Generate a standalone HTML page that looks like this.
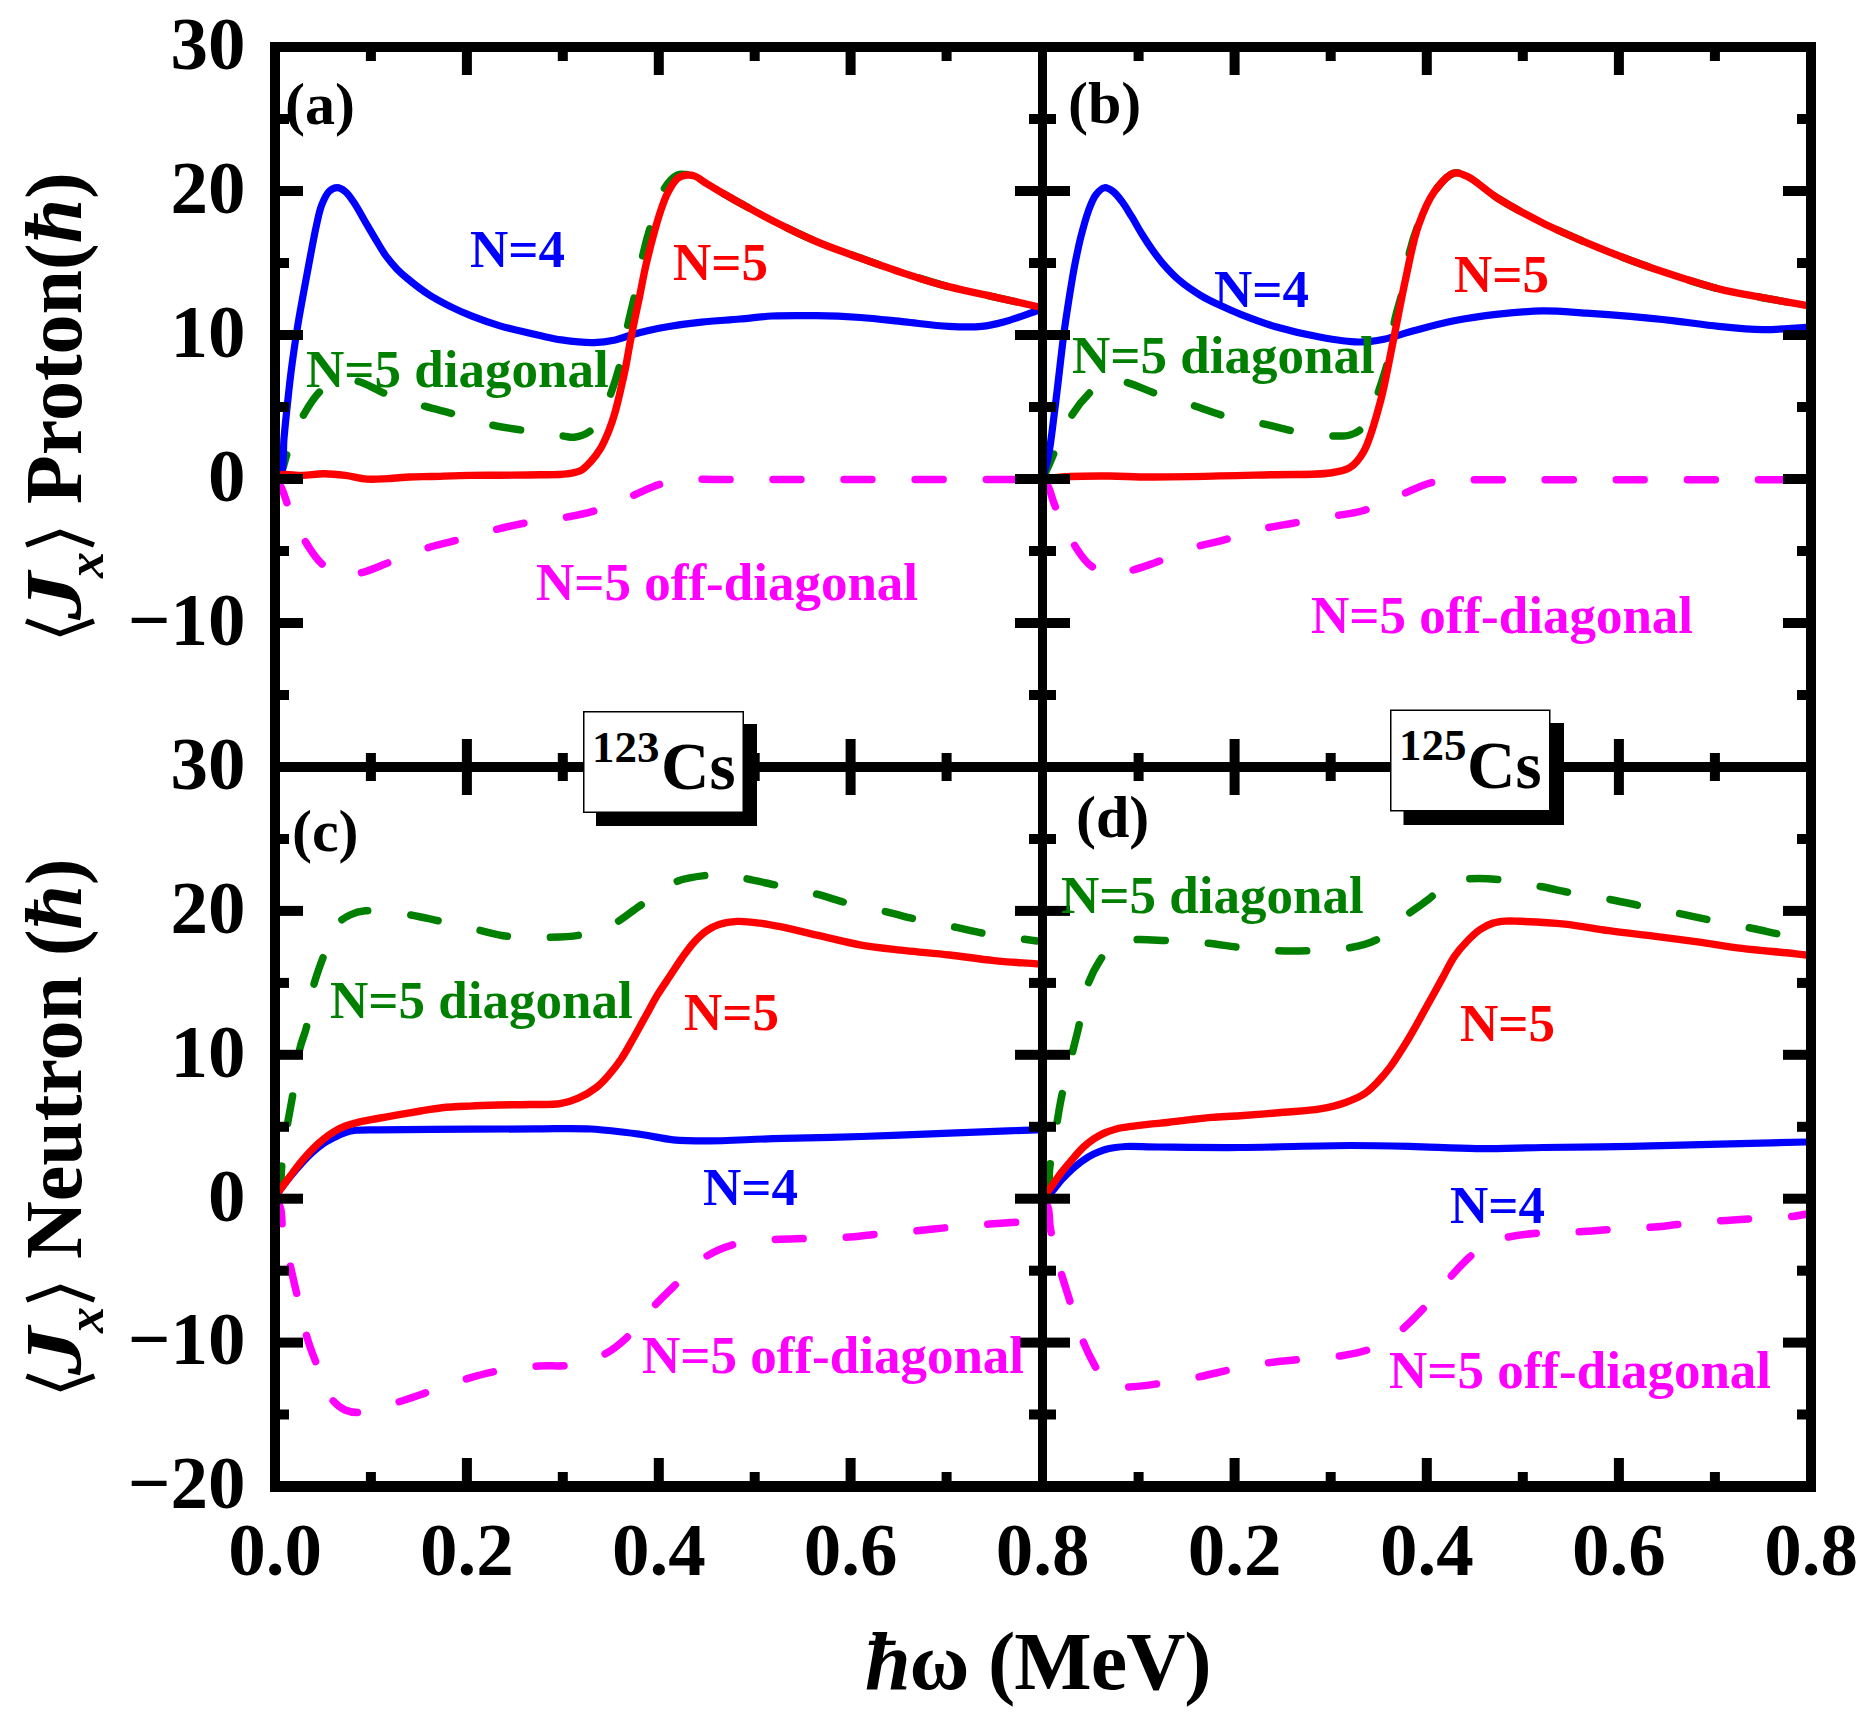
<!DOCTYPE html>
<html><head><meta charset="utf-8"><style>
html,body{margin:0;padding:0;background:#fff;}
svg{display:block;}
</style></head><body>
<svg width="1860" height="1717" viewBox="0 0 1860 1717">
<rect width="1860" height="1717" fill="#fff"/>
<path d="M275.0,479.0 C276.9,476.9 279.0,475.7 280.8,472.7 C283.8,467.7 285.1,458.5 288.3,450.1 C292.5,439.3 298.4,424.0 304.4,413.5 C309.4,404.8 314.4,396.8 320.5,391.0 C325.8,386.0 331.7,381.6 338.0,380.0 C344.3,378.4 351.1,379.5 358.2,381.3 C367.1,383.5 376.5,390.3 386.7,394.2 C398.1,398.6 411.8,402.5 423.8,406.0 C434.9,409.2 445.0,411.5 456.0,414.6 C467.7,417.8 479.9,422.3 492.0,425.0 C503.9,427.7 516.0,429.1 528.0,431.0 C539.9,432.8 555.3,435.1 563.7,436.1 C568.3,436.7 570.5,437.7 574.4,437.2 C579.3,436.5 586.2,434.1 590.5,430.8 C594.6,427.6 597.0,423.2 600.0,418.0 C603.9,411.2 607.7,402.0 611.0,393.1 C614.6,383.4 617.8,373.0 620.6,362.0 C623.6,350.0 625.4,336.2 628.0,324.0 C630.4,312.6 633.2,302.5 635.7,291.2 C638.3,279.1 640.4,265.4 643.2,253.5 C645.8,242.6 648.4,233.0 651.8,222.4 C655.5,211.1 659.4,196.3 664.7,188.0 C668.5,182.1 673.4,176.9 677.6,175.0 C680.5,173.7 683.3,174.3 686.2,174.5 C689.1,174.7 691.8,174.9 694.8,176.1 C698.6,177.6 702.4,181.1 706.7,183.7 C711.6,186.7 717.3,190.1 722.8,193.3 C728.4,196.6 733.4,199.3 740.0,203.0 C749.0,208.0 760.5,214.6 772.2,220.5 C785.7,227.4 801.5,235.2 816.3,241.5 C830.9,247.7 845.7,252.7 860.4,258.0 C875.1,263.3 889.7,268.6 904.5,273.4 C919.1,278.2 933.8,282.8 948.6,286.7 C963.2,290.5 978.0,293.3 992.7,296.6 C1007.4,299.9 1022.2,303.2 1037.0,306.5" fill="none" stroke="#007f00" stroke-width="7.5" stroke-linejoin="round" stroke-linecap="round" stroke-dasharray="28 43" stroke-dashoffset="0.5"/><path d="M275.0,479.0 C277.0,481.7 279.1,483.5 281.0,487.0 C283.9,492.2 285.7,500.3 289.0,508.0 C293.3,517.8 299.1,531.2 305.0,541.0 C310.2,549.6 315.6,558.2 322.0,564.0 C327.5,569.0 333.6,573.5 340.0,575.0 C346.3,576.4 352.8,574.6 360.0,573.0 C368.9,571.0 378.8,566.3 389.0,562.5 C400.4,558.3 413.5,552.5 425.0,548.7 C435.4,545.3 444.4,543.5 455.0,540.6 C466.9,537.4 480.9,533.2 493.0,530.2 C503.8,527.5 512.9,525.2 524.0,523.2 C536.7,520.9 552.3,519.7 565.0,517.4 C576.1,515.4 585.4,513.8 596.0,510.5 C607.9,506.8 621.5,500.2 633.0,495.5 C643.0,491.4 651.4,486.7 661.0,484.0 C670.4,481.4 680.2,480.3 690.0,479.5 C699.9,478.7 704.7,479.5 720.0,479.5 C769.7,479.5 931.3,479.5 1037.0,479.5" fill="none" stroke="#ff00ff" stroke-width="7.5" stroke-linejoin="round" stroke-linecap="round" stroke-dasharray="28 43" stroke-dashoffset="1"/><path d="M275.0,479.0 C276.9,478.0 279.3,478.2 280.8,475.9 C284.4,470.5 282.9,450.4 284.0,438.3 C285.0,427.1 286.0,417.2 287.2,406.0 C288.5,393.9 289.8,381.4 291.5,368.4 C293.4,354.2 295.6,338.5 298.0,324.0 C300.3,310.0 303.1,295.4 305.4,282.9 C307.3,272.4 309.0,263.4 310.8,253.9 C312.6,244.8 314.2,235.4 316.1,227.0 C317.8,219.4 319.1,211.8 321.5,205.5 C323.6,200.2 325.9,194.5 329.0,191.5 C331.3,189.3 334.4,187.7 337.1,187.7 C339.8,187.7 342.7,189.5 345.2,191.5 C348.3,194.0 350.9,198.1 353.8,202.3 C357.4,207.5 360.9,214.4 364.5,220.5 C368.1,226.6 371.7,232.8 375.3,238.8 C378.8,244.6 382.2,250.8 386.0,256.0 C389.4,260.7 393.1,265.0 396.8,268.9 C400.3,272.5 403.2,275.1 407.5,278.6 C413.3,283.4 421.7,290.0 429.0,294.7 C436.0,299.2 443.3,303.0 450.5,306.6 C457.6,310.1 464.3,313.1 472.0,316.2 C480.6,319.6 489.8,322.9 500.0,325.9 C512.1,329.4 528.7,333.1 540.0,335.6 C548.2,337.4 553.6,338.8 561.5,339.9 C571.1,341.3 584.1,342.8 593.8,342.6 C601.7,342.4 608.7,341.3 615.3,339.9 C621.1,338.7 626.0,336.5 631.4,335.0 C636.8,333.5 641.7,332.1 647.5,330.8 C654.1,329.3 661.1,327.8 669.0,326.5 C678.7,324.9 690.0,323.4 701.3,322.2 C713.6,320.9 727.7,320.1 740.0,319.0 C751.2,318.0 760.6,316.6 772.2,316.0 C785.7,315.3 801.6,315.5 816.3,315.7 C831.0,315.9 845.7,316.5 860.4,317.5 C875.1,318.5 889.8,320.4 904.5,321.9 C919.2,323.4 934.9,325.6 948.6,326.3 C960.4,326.9 971.7,327.3 981.6,326.3 C989.7,325.5 995.7,324.0 1003.7,321.9 C1013.7,319.3 1025.9,314.6 1037.0,310.9" fill="none" stroke="#0000ff" stroke-width="7.2" stroke-linejoin="round" stroke-linecap="round"/><path d="M275.0,479.0 C276.9,477.6 278.1,475.6 280.8,474.8 C285.5,473.3 295.1,475.6 302.3,475.4 C309.5,475.2 316.6,473.8 323.8,473.8 C331.0,473.8 338.2,474.5 345.3,475.4 C352.5,476.3 359.6,478.6 366.8,479.1 C373.9,479.6 381.1,478.9 388.3,478.6 C395.5,478.3 402.6,477.3 409.8,477.0 C417.0,476.7 423.1,476.7 431.3,476.5 C442.3,476.2 457.8,475.6 470.0,475.4 C481.0,475.2 490.2,475.3 501.2,475.2 C513.4,475.1 528.2,475.1 540.0,474.8 C549.8,474.6 559.4,474.8 566.9,473.8 C572.4,473.1 576.9,472.6 580.9,470.5 C584.7,468.5 587.4,465.2 590.5,461.9 C593.9,458.2 597.3,453.8 600.2,449.0 C603.5,443.6 606.3,437.0 608.8,430.8 C611.3,424.5 613.4,418.1 615.3,411.4 C617.3,404.5 618.9,397.3 620.6,389.9 C622.4,382.0 624.4,373.4 626.0,365.2 C627.6,357.2 628.8,349.2 630.3,341.5 C631.7,334.2 633.1,327.1 634.6,320.0 C636.0,313.2 637.3,307.3 638.9,299.8 C640.9,290.3 643.0,278.1 645.4,267.5 C647.7,257.3 650.3,247.0 652.9,237.4 C655.3,228.4 657.7,219.5 660.4,211.6 C662.8,204.6 664.9,198.1 668.0,192.3 C670.8,187.1 674.0,181.1 677.6,178.3 C680.2,176.2 683.3,175.5 686.2,175.1 C689.0,174.8 691.8,175.0 694.8,176.1 C698.6,177.5 702.4,181.1 706.7,183.7 C711.6,186.7 717.3,190.1 722.8,193.3 C728.4,196.6 733.4,199.3 740.0,203.0 C749.0,208.0 760.5,214.6 772.2,220.5 C785.7,227.4 801.5,235.2 816.3,241.5 C830.9,247.7 845.7,252.7 860.4,258.0 C875.1,263.3 889.7,268.6 904.5,273.4 C919.1,278.2 933.8,282.8 948.6,286.7 C963.2,290.5 978.0,293.3 992.7,296.6 C1007.4,299.9 1022.2,303.2 1037.0,306.5" fill="none" stroke="#ff0000" stroke-width="7.4" stroke-linejoin="round" stroke-linecap="round"/><path d="M1042.5,479.0 C1044.7,474.3 1046.9,469.7 1049.0,465.0 C1051.1,460.3 1052.7,456.0 1055.0,451.0 C1057.6,445.1 1061.1,438.2 1064.0,432.0 C1066.8,426.0 1068.6,420.4 1072.3,414.5 C1076.7,407.4 1083.4,399.0 1089.5,393.0 C1094.9,387.7 1100.4,381.7 1106.7,380.0 C1112.7,378.4 1118.9,380.6 1126.0,382.3 C1135.3,384.6 1146.3,390.2 1157.2,394.0 C1169.1,398.1 1182.8,402.1 1194.8,406.0 C1206.0,409.6 1215.7,413.7 1227.0,416.7 C1239.0,419.9 1252.6,421.6 1264.7,424.2 C1275.9,426.6 1285.8,429.8 1297.0,431.7 C1309.0,433.8 1324.8,435.8 1334.6,436.0 C1340.9,436.2 1345.5,436.3 1350.0,435.0 C1353.9,433.9 1357.3,432.4 1360.4,429.6 C1364.2,426.2 1367.2,420.7 1370.0,415.0 C1373.4,408.1 1375.8,399.6 1378.7,390.9 C1382.0,381.0 1385.8,369.9 1388.4,358.6 C1391.2,346.4 1392.2,332.2 1394.8,319.9 C1397.2,308.6 1400.9,298.8 1403.4,287.6 C1406.0,275.8 1406.9,262.7 1409.9,251.0 C1412.7,239.8 1416.4,228.9 1420.6,218.8 C1424.6,209.3 1428.4,199.6 1434.2,191.9 C1439.7,184.5 1447.6,174.8 1454.0,173.1 C1458.5,171.9 1462.2,174.1 1467.3,176.4 C1475.8,180.3 1486.8,191.3 1498.2,198.5 C1511.4,206.8 1527.4,215.3 1542.2,222.7 C1556.7,230.0 1571.5,236.3 1586.3,242.6 C1600.9,248.8 1615.6,254.7 1630.4,260.2 C1645.0,265.7 1659.7,270.8 1674.5,275.6 C1689.1,280.4 1703.8,285.2 1718.6,288.9 C1733.2,292.6 1748.1,294.9 1762.7,297.7 C1777.2,300.4 1791.6,302.8 1806.0,305.4" fill="none" stroke="#007f00" stroke-width="7.5" stroke-linejoin="round" stroke-linecap="round" stroke-dasharray="28 43" stroke-dashoffset="0.5"/><path d="M1042.5,479.0 C1044.3,481.4 1046.3,483.0 1048.0,486.2 C1050.6,491.0 1051.9,498.5 1055.0,505.9 C1059.3,516.2 1066.2,531.4 1072.4,541.7 C1077.5,550.2 1082.5,558.3 1088.5,563.7 C1093.5,568.2 1099.0,571.6 1105.0,573.0 C1111.3,574.5 1118.1,573.1 1125.5,571.8 C1134.7,570.1 1145.0,566.2 1155.6,562.5 C1167.6,558.3 1181.9,551.3 1193.7,547.5 C1203.6,544.3 1211.4,543.3 1221.5,540.6 C1233.8,537.3 1249.3,532.0 1262.0,529.0 C1273.0,526.4 1282.1,525.2 1293.1,523.2 C1305.4,521.0 1320.0,518.5 1332.4,516.3 C1343.4,514.3 1353.1,513.7 1363.7,510.5 C1375.4,507.0 1388.0,500.3 1399.5,495.5 C1410.2,491.1 1420.8,485.4 1430.7,482.8 C1439.2,480.6 1446.8,480.2 1455.0,479.7 C1463.3,479.2 1466.9,479.7 1480.0,479.7 C1527.1,479.7 1697.3,479.7 1806.0,479.7" fill="none" stroke="#ff00ff" stroke-width="7.5" stroke-linejoin="round" stroke-linecap="round" stroke-dasharray="28 43" stroke-dashoffset="68"/><path d="M1042.5,479.0 C1044.5,471.0 1046.8,464.4 1048.6,455.0 C1051.1,442.0 1052.7,425.6 1055.0,408.0 C1057.9,385.6 1061.5,351.4 1064.2,331.3 C1066.0,318.2 1067.3,309.8 1069.0,299.0 C1070.7,288.3 1072.4,277.3 1074.4,266.8 C1076.4,256.6 1078.5,246.3 1080.9,236.7 C1083.2,227.7 1085.6,218.4 1088.4,210.9 C1090.7,204.8 1092.8,198.7 1095.9,194.7 C1098.4,191.5 1101.5,188.1 1104.5,187.7 C1107.3,187.3 1110.4,189.5 1113.1,191.5 C1116.2,193.8 1118.9,197.5 1121.7,201.2 C1125.0,205.5 1128.1,210.9 1131.4,216.2 C1135.0,222.0 1138.5,228.6 1142.2,234.5 C1145.7,240.1 1149.2,245.5 1152.9,250.6 C1156.4,255.5 1159.6,259.9 1163.7,264.6 C1168.4,269.9 1173.8,275.8 1179.8,280.8 C1186.2,286.2 1194.0,291.4 1201.3,295.8 C1208.3,300.0 1216.0,303.4 1222.8,306.6 C1228.8,309.4 1233.1,311.4 1240.0,314.1 C1249.9,318.0 1263.8,323.3 1276.6,327.0 C1290.3,331.0 1305.6,334.5 1319.6,337.0 C1332.8,339.4 1346.7,341.9 1358.3,342.0 C1367.7,342.1 1375.5,340.9 1384.0,339.2 C1392.7,337.5 1400.2,334.4 1410.0,331.8 C1422.7,328.4 1439.2,323.7 1454.0,320.8 C1468.6,317.9 1483.5,315.9 1498.2,314.2 C1512.9,312.6 1527.5,311.1 1542.2,310.9 C1556.9,310.7 1571.6,312.2 1586.3,313.1 C1601.0,314.0 1615.7,315.1 1630.4,316.4 C1645.1,317.7 1659.8,319.2 1674.5,320.8 C1689.2,322.5 1703.9,324.8 1718.6,326.3 C1733.3,327.8 1748.1,329.4 1762.7,329.6 C1777.2,329.8 1791.6,328.1 1806.0,327.4" fill="none" stroke="#0000ff" stroke-width="7.2" stroke-linejoin="round" stroke-linecap="round"/><path d="M1042.5,479.0 C1051.7,478.2 1060.0,477.0 1070.0,476.5 C1082.1,475.9 1096.6,475.9 1110.0,476.0 C1123.6,476.1 1133.7,477.0 1151.0,477.0 C1180.5,477.1 1238.2,475.5 1271.2,474.7 C1294.3,474.1 1315.7,475.1 1330.0,473.0 C1338.4,471.8 1344.2,471.2 1349.8,467.7 C1355.5,464.1 1359.5,458.9 1363.7,451.6 C1370.1,440.3 1375.1,420.8 1379.8,403.8 C1385.0,385.0 1388.5,364.0 1392.7,343.5 C1397.1,322.4 1401.1,299.5 1405.6,279.0 C1409.7,260.2 1413.0,240.8 1418.5,225.3 C1423.0,212.6 1427.7,201.0 1434.2,191.9 C1439.8,184.1 1447.6,174.8 1454.0,173.1 C1458.5,171.9 1462.2,174.1 1467.3,176.4 C1475.8,180.3 1486.8,191.3 1498.2,198.5 C1511.4,206.8 1527.4,215.3 1542.2,222.7 C1556.7,230.0 1571.5,236.3 1586.3,242.6 C1600.9,248.8 1615.6,254.7 1630.4,260.2 C1645.0,265.7 1659.7,270.8 1674.5,275.6 C1689.1,280.4 1703.8,285.2 1718.6,288.9 C1733.2,292.6 1748.1,294.9 1762.7,297.7 C1777.2,300.4 1791.6,302.8 1806.0,305.4" fill="none" stroke="#ff0000" stroke-width="7.4" stroke-linejoin="round" stroke-linecap="round"/><path d="M275.0,1198.0 C276.7,1193.7 279.1,1189.8 280.2,1185.0 C281.5,1179.3 281.0,1173.3 281.8,1165.8 C283.0,1154.9 285.3,1138.3 287.2,1126.0 C288.9,1115.2 290.7,1107.1 292.6,1095.9 C295.0,1081.8 297.1,1060.6 300.0,1048.0 C302.0,1039.5 304.6,1035.2 306.5,1027.0 C309.1,1015.9 310.2,999.4 313.2,987.2 C315.9,976.4 319.4,967.4 323.1,957.3 C327.0,946.7 330.8,932.5 336.4,925.2 C340.3,920.1 345.1,917.4 350.0,915.0 C354.7,912.7 358.8,911.4 365.2,910.8 C375.5,909.8 393.3,912.4 406.1,914.2 C417.5,915.8 427.0,918.4 438.2,920.8 C450.5,923.5 464.8,927.0 477.0,929.7 C487.9,932.1 497.0,935.0 508.0,936.3 C520.1,937.8 534.2,937.7 546.7,937.4 C558.4,937.1 569.8,937.1 580.8,934.9 C591.7,932.7 602.8,929.3 612.6,924.5 C622.3,919.7 629.9,912.6 639.5,906.1 C650.6,898.6 663.4,887.1 675.4,882.0 C685.7,877.6 697.2,876.5 706.4,875.4 C713.6,874.6 719.4,874.5 726.0,875.0 C732.7,875.5 738.8,877.2 746.2,878.7 C755.4,880.5 766.2,883.0 777.2,885.4 C789.6,888.1 804.7,891.0 817.0,894.2 C827.7,897.0 836.2,900.2 846.9,903.0 C859.2,906.2 874.3,909.0 886.7,911.9 C897.7,914.5 906.8,917.1 917.7,919.6 C929.9,922.3 944.2,924.9 956.4,927.4 C967.3,929.7 975.7,932.0 987.3,934.0 C1001.9,936.6 1020.4,938.7 1037.0,941.0" fill="none" stroke="#007f00" stroke-width="7.5" stroke-linejoin="round" stroke-linecap="round" stroke-dasharray="28 43" stroke-dashoffset="66"/><path d="M275.0,1198.0 C276.8,1201.2 279.1,1203.7 280.4,1207.7 C282.2,1213.4 281.4,1221.4 282.7,1229.7 C284.4,1240.7 288.2,1255.9 290.8,1267.8 C293.1,1278.4 295.2,1287.2 297.7,1297.9 C300.5,1310.1 303.4,1325.2 307.0,1337.2 C310.1,1347.7 313.5,1356.3 317.4,1366.1 C321.6,1376.7 325.6,1390.9 331.3,1398.5 C335.3,1403.9 339.9,1407.7 345.0,1410.0 C349.9,1412.2 354.8,1412.7 361.3,1412.3 C371.2,1411.6 386.5,1405.6 398.3,1402.0 C409.2,1398.7 418.7,1395.2 429.5,1391.5 C441.3,1387.5 454.5,1382.4 466.5,1378.8 C477.6,1375.5 487.5,1372.8 498.9,1370.7 C511.3,1368.4 525.7,1367.0 538.2,1366.1 C549.5,1365.2 559.8,1366.8 570.5,1365.0 C581.7,1363.1 594.2,1359.5 604.0,1354.5 C612.9,1350.0 619.7,1344.2 627.2,1337.2 C635.9,1329.1 644.2,1316.8 652.3,1308.0 C659.4,1300.3 665.4,1294.5 673.2,1287.0 C682.6,1277.9 693.8,1264.5 705.0,1257.2 C714.8,1250.8 724.7,1246.9 735.9,1243.9 C748.1,1240.7 763.1,1240.4 775.6,1239.5 C786.8,1238.7 796.4,1238.8 807.5,1238.4 C819.8,1238.0 833.9,1238.1 846.1,1237.3 C857.3,1236.6 866.9,1235.0 878.1,1234.0 C890.6,1232.8 905.2,1231.9 917.7,1230.7 C928.9,1229.7 938.5,1228.4 949.7,1227.4 C962.2,1226.2 977.0,1225.1 989.4,1224.1 C1000.3,1223.3 1011.5,1222.6 1020.2,1221.9 C1026.6,1221.4 1031.4,1221.0 1037.0,1220.5" fill="none" stroke="#ff00ff" stroke-width="7.5" stroke-linejoin="round" stroke-linecap="round" stroke-dasharray="28 43" stroke-dashoffset="0.5"/><path d="M275.0,1198.0 C276.6,1195.5 277.4,1193.7 279.7,1190.5 C284.3,1184.0 296.0,1169.6 302.3,1162.6 C306.4,1158.0 309.3,1155.1 313.0,1151.8 C316.5,1148.7 320.1,1145.7 323.8,1143.2 C327.3,1140.9 330.9,1139.1 334.5,1137.3 C338.1,1135.5 341.6,1133.7 345.3,1132.5 C348.8,1131.4 351.8,1130.8 356.0,1130.3 C361.9,1129.6 367.8,1129.9 377.5,1129.8 C397.6,1129.5 441.8,1129.4 470.0,1129.2 C493.7,1129.1 514.7,1128.9 535.6,1128.9 C554.8,1128.9 573.1,1128.0 591.0,1129.0 C607.9,1129.9 625.3,1132.3 640.0,1134.3 C652.2,1136.0 662.1,1138.7 673.2,1139.8 C684.2,1140.9 693.4,1140.9 706.4,1140.9 C724.7,1140.9 749.0,1139.4 772.7,1138.7 C800.1,1137.9 831.7,1137.4 861.2,1136.5 C890.7,1135.6 920.3,1134.2 949.7,1133.1 C978.9,1132.0 1007.9,1130.9 1037.0,1129.8" fill="none" stroke="#0000ff" stroke-width="7.2" stroke-linejoin="round" stroke-linecap="round"/><path d="M275.0,1198.0 C276.6,1195.5 277.7,1193.4 279.7,1190.5 C282.7,1186.1 287.6,1179.6 291.5,1174.4 C295.1,1169.5 298.6,1164.8 302.3,1160.4 C305.8,1156.2 309.3,1152.3 313.0,1148.6 C316.5,1145.1 320.1,1141.8 323.8,1138.9 C327.3,1136.1 330.8,1133.6 334.5,1131.4 C338.0,1129.3 341.6,1127.4 345.3,1126.0 C348.8,1124.6 351.8,1123.8 356.0,1122.8 C361.9,1121.3 370.3,1119.9 377.5,1118.5 C384.7,1117.2 391.8,1116.0 399.0,1114.7 C406.2,1113.5 413.3,1112.2 420.5,1111.0 C427.7,1109.8 434.3,1108.5 442.0,1107.7 C450.7,1106.8 460.5,1106.5 470.0,1106.1 C479.8,1105.6 490.0,1105.3 500.0,1105.0 C510.0,1104.7 520.0,1104.7 530.0,1104.5 C540.0,1104.3 551.3,1105.1 560.0,1103.7 C566.9,1102.6 572.4,1100.8 578.3,1098.2 C584.6,1095.4 591.4,1091.3 596.7,1087.2 C601.5,1083.5 605.0,1079.4 608.9,1074.9 C613.1,1070.1 617.3,1064.8 621.2,1059.0 C625.5,1052.7 629.4,1045.3 633.4,1038.2 C637.5,1031.0 641.5,1023.5 645.6,1016.2 C649.7,1008.9 653.7,1001.1 657.9,994.2 C661.9,987.7 666.0,981.9 670.1,975.8 C674.2,969.7 678.1,963.3 682.3,957.5 C686.3,951.9 690.3,946.2 694.6,941.6 C698.5,937.4 702.5,933.5 706.8,930.6 C710.7,927.9 714.4,926.0 719.0,924.5 C724.4,922.7 730.9,921.7 737.4,921.4 C744.5,921.1 752.4,922.2 760.0,923.2 C767.9,924.2 775.2,925.7 783.8,927.4 C794.0,929.5 805.1,932.4 817.0,935.1 C830.7,938.2 846.4,942.5 861.2,945.1 C875.9,947.7 890.7,948.9 905.5,950.6 C920.2,952.2 935.0,953.3 949.7,955.0 C964.5,956.7 979.3,959.1 994.0,960.6 C1008.4,962.1 1022.7,962.8 1037.0,963.9" fill="none" stroke="#ff0000" stroke-width="7.4" stroke-linejoin="round" stroke-linecap="round"/><path d="M1042.5,1198.0 C1044.5,1193.7 1047.4,1189.7 1048.6,1185.0 C1049.9,1179.8 1048.9,1174.8 1049.7,1168.0 C1050.9,1157.5 1054.0,1140.7 1056.1,1128.2 C1057.9,1117.2 1059.2,1108.0 1061.5,1097.0 C1064.1,1084.5 1068.6,1067.7 1071.2,1057.2 C1072.9,1050.3 1074.2,1045.3 1075.5,1040.0 C1076.6,1035.4 1077.5,1032.5 1078.7,1027.0 C1080.8,1017.5 1082.6,999.9 1086.5,988.3 C1089.9,978.1 1094.6,968.5 1099.8,960.6 C1104.3,953.7 1108.8,946.5 1115.0,943.0 C1120.8,939.7 1127.7,940.1 1135.2,939.6 C1144.6,939.0 1156.1,940.2 1167.3,940.7 C1179.6,941.3 1193.6,941.8 1206.0,943.0 C1217.5,944.1 1227.8,946.1 1239.2,947.4 C1251.4,948.7 1264.8,950.2 1276.9,950.7 C1288.0,951.2 1297.8,951.1 1309.0,950.7 C1321.4,950.3 1336.2,950.2 1348.2,948.0 C1358.8,946.1 1368.6,944.0 1377.7,939.1 C1387.4,933.9 1395.9,923.5 1404.6,916.7 C1412.5,910.6 1420.1,905.8 1427.6,900.0 C1435.2,894.2 1442.3,885.4 1450.0,882.0 C1456.4,879.1 1462.3,879.2 1469.7,878.7 C1479.1,878.1 1490.6,878.6 1501.8,879.8 C1514.1,881.1 1528.2,884.2 1540.5,886.5 C1551.7,888.6 1561.4,891.0 1572.6,893.1 C1584.9,895.4 1599.0,897.4 1611.3,899.7 C1622.5,901.8 1632.2,904.1 1643.4,906.4 C1655.7,908.9 1669.9,911.6 1682.1,914.1 C1693.0,916.4 1702.1,918.5 1713.1,920.8 C1725.5,923.3 1740.5,926.0 1752.9,928.5 C1763.9,930.7 1774.4,933.4 1783.9,935.1 C1791.9,936.6 1798.6,937.4 1806.0,938.5" fill="none" stroke="#007f00" stroke-width="7.5" stroke-linejoin="round" stroke-linecap="round" stroke-dasharray="28 43" stroke-dashoffset="63"/><path d="M1042.5,1198.0 C1044.4,1201.2 1046.8,1203.7 1048.1,1207.7 C1049.9,1213.2 1049.0,1220.5 1050.4,1228.5 C1052.3,1239.6 1056.4,1255.6 1059.7,1267.8 C1062.6,1278.6 1065.6,1287.4 1068.9,1297.9 C1072.5,1309.6 1076.2,1323.6 1080.5,1334.9 C1084.4,1344.9 1088.4,1354.0 1093.2,1362.6 C1097.7,1370.6 1101.5,1381.1 1108.0,1385.0 C1113.8,1388.4 1121.3,1387.0 1129.0,1386.9 C1138.4,1386.8 1149.1,1385.0 1160.2,1383.4 C1172.8,1381.6 1188.2,1379.0 1200.7,1376.5 C1211.5,1374.3 1220.0,1371.8 1230.7,1369.6 C1242.9,1367.1 1257.5,1364.4 1270.0,1362.6 C1281.3,1361.0 1291.1,1360.3 1302.4,1359.2 C1314.9,1358.0 1329.7,1357.7 1341.7,1355.7 C1352.1,1354.0 1361.3,1352.6 1370.6,1348.8 C1380.6,1344.7 1390.9,1338.0 1399.5,1331.4 C1407.7,1325.2 1414.0,1318.4 1421.4,1310.6 C1429.9,1301.6 1439.1,1289.6 1447.5,1280.3 C1455.0,1272.0 1462.0,1263.7 1469.5,1257.1 C1476.2,1251.2 1483.2,1245.3 1490.0,1242.0 C1495.7,1239.2 1500.3,1238.7 1507.0,1237.3 C1516.1,1235.4 1528.5,1233.8 1540.0,1232.9 C1552.3,1231.9 1566.3,1232.4 1578.6,1231.8 C1589.8,1231.3 1599.4,1230.3 1610.6,1229.6 C1622.9,1228.8 1636.8,1228.4 1649.2,1227.4 C1660.6,1226.5 1670.8,1225.2 1682.2,1224.1 C1694.6,1223.0 1708.4,1221.7 1720.8,1220.8 C1732.3,1219.9 1742.4,1219.3 1753.9,1218.6 C1766.2,1217.8 1782.9,1217.4 1792.4,1216.4 C1798.1,1215.8 1801.5,1214.9 1806.0,1214.2" fill="none" stroke="#ff00ff" stroke-width="7.5" stroke-linejoin="round" stroke-linecap="round" stroke-dasharray="28 43" stroke-dashoffset="62.5"/><path d="M1042.5,1198.0 C1045.3,1196.2 1048.0,1195.1 1050.8,1192.7 C1054.4,1189.5 1057.8,1183.8 1061.5,1179.8 C1065.0,1176.0 1068.6,1172.3 1072.3,1169.0 C1075.8,1165.9 1079.3,1162.9 1083.0,1160.4 C1086.5,1158.0 1090.1,1155.8 1093.8,1154.0 C1097.3,1152.3 1100.9,1150.8 1104.5,1149.7 C1108.0,1148.6 1111.7,1148.0 1115.3,1147.5 C1118.9,1147.0 1121.5,1146.7 1126.0,1146.5 C1133.9,1146.2 1145.1,1146.9 1158.3,1147.0 C1179.3,1147.2 1210.7,1147.7 1240.0,1147.5 C1273.9,1147.3 1318.8,1145.5 1350.0,1145.5 C1373.0,1145.5 1389.5,1145.9 1410.0,1146.4 C1431.6,1146.9 1454.3,1148.4 1476.4,1148.6 C1498.5,1148.8 1519.0,1147.8 1542.7,1147.5 C1570.1,1147.1 1601.7,1146.9 1631.2,1146.4 C1660.7,1145.8 1690.4,1144.9 1719.7,1144.2 C1748.6,1143.5 1777.2,1142.7 1806.0,1142.0" fill="none" stroke="#0000ff" stroke-width="7.2" stroke-linejoin="round" stroke-linecap="round"/><path d="M1042.5,1198.0 C1044.5,1195.5 1046.3,1193.6 1048.6,1190.5 C1052.2,1185.8 1057.3,1177.8 1061.5,1172.3 C1065.2,1167.5 1068.7,1163.6 1072.3,1159.4 C1075.8,1155.3 1079.3,1151.0 1083.0,1147.5 C1086.5,1144.2 1090.1,1141.4 1093.8,1138.9 C1097.3,1136.6 1100.9,1134.6 1104.5,1133.0 C1108.0,1131.4 1111.7,1130.2 1115.3,1129.2 C1118.8,1128.2 1121.8,1127.8 1126.0,1127.1 C1131.9,1126.1 1140.3,1125.2 1147.5,1124.4 C1154.7,1123.6 1161.8,1123.1 1169.0,1122.3 C1176.2,1121.5 1183.3,1120.4 1190.5,1119.6 C1197.7,1118.8 1204.4,1118.0 1212.0,1117.4 C1220.7,1116.7 1229.6,1116.5 1240.0,1115.8 C1252.9,1114.9 1269.6,1113.5 1283.5,1112.3 C1296.2,1111.2 1309.0,1110.7 1320.0,1108.8 C1329.4,1107.2 1337.8,1105.2 1345.6,1102.4 C1352.6,1099.9 1359.3,1097.2 1364.8,1093.5 C1369.8,1090.2 1373.6,1086.2 1377.7,1081.9 C1382.1,1077.3 1386.4,1072.1 1390.5,1066.6 C1394.9,1060.7 1399.1,1054.0 1403.3,1047.3 C1407.7,1040.3 1411.9,1033.0 1416.1,1025.6 C1420.4,1018.0 1424.6,1010.2 1428.9,1002.5 C1433.2,994.8 1437.4,987.1 1441.7,979.4 C1446.0,971.7 1449.9,963.1 1454.5,956.4 C1458.5,950.5 1462.8,945.6 1467.3,941.0 C1471.4,936.7 1475.7,932.6 1480.2,929.5 C1484.3,926.7 1488.6,924.5 1493.0,923.1 C1497.2,921.8 1501.4,921.4 1505.8,921.1 C1510.4,920.8 1513.9,921.1 1520.0,921.3 C1530.8,921.7 1550.0,922.5 1564.9,924.1 C1579.7,925.7 1594.3,928.7 1609.1,930.7 C1623.8,932.7 1638.6,934.3 1653.4,936.2 C1668.1,938.0 1682.9,939.8 1697.6,941.8 C1712.4,943.8 1727.1,946.6 1741.9,948.4 C1756.6,950.2 1774.3,951.6 1786.1,952.8 C1794.0,953.6 1799.4,954.3 1806.0,955.0" fill="none" stroke="#ff0000" stroke-width="7.4" stroke-linejoin="round" stroke-linecap="round"/>
<rect x="270.0" y="42.0" width="1546.0" height="10.0" fill="#000"/>
<rect x="270.0" y="1481.0" width="1546.0" height="11.0" fill="#000"/>
<rect x="270.0" y="42.0" width="10.0" height="1450.0" fill="#000"/>
<rect x="1806.0" y="42.0" width="10.0" height="1450.0" fill="#000"/>
<rect x="1038.0" y="42.0" width="9.0" height="1450.0" fill="#000"/>
<rect x="270.0" y="762.0" width="1546.0" height="10.0" fill="#000"/>
<rect x="365.9" y="52.0" width="10.0" height="9.0" fill="#000"/>
<rect x="365.9" y="753.0" width="10.0" height="28.0" fill="#000"/>
<rect x="365.9" y="1472.0" width="10.0" height="9.0" fill="#000"/>
<rect x="461.9" y="52.0" width="10.0" height="23.0" fill="#000"/>
<rect x="461.9" y="739.0" width="10.0" height="56.0" fill="#000"/>
<rect x="461.9" y="1458.0" width="10.0" height="23.0" fill="#000"/>
<rect x="557.8" y="52.0" width="10.0" height="9.0" fill="#000"/>
<rect x="557.8" y="753.0" width="10.0" height="28.0" fill="#000"/>
<rect x="557.8" y="1472.0" width="10.0" height="9.0" fill="#000"/>
<rect x="653.8" y="52.0" width="10.0" height="23.0" fill="#000"/>
<rect x="653.8" y="739.0" width="10.0" height="56.0" fill="#000"/>
<rect x="653.8" y="1458.0" width="10.0" height="23.0" fill="#000"/>
<rect x="749.7" y="52.0" width="10.0" height="9.0" fill="#000"/>
<rect x="749.7" y="753.0" width="10.0" height="28.0" fill="#000"/>
<rect x="749.7" y="1472.0" width="10.0" height="9.0" fill="#000"/>
<rect x="845.6" y="52.0" width="10.0" height="23.0" fill="#000"/>
<rect x="845.6" y="739.0" width="10.0" height="56.0" fill="#000"/>
<rect x="845.6" y="1458.0" width="10.0" height="23.0" fill="#000"/>
<rect x="941.6" y="52.0" width="10.0" height="9.0" fill="#000"/>
<rect x="941.6" y="753.0" width="10.0" height="28.0" fill="#000"/>
<rect x="941.6" y="1472.0" width="10.0" height="9.0" fill="#000"/>
<rect x="1133.6" y="52.0" width="10.0" height="9.0" fill="#000"/>
<rect x="1133.6" y="753.0" width="10.0" height="28.0" fill="#000"/>
<rect x="1133.6" y="1472.0" width="10.0" height="9.0" fill="#000"/>
<rect x="1229.6" y="52.0" width="10.0" height="23.0" fill="#000"/>
<rect x="1229.6" y="739.0" width="10.0" height="56.0" fill="#000"/>
<rect x="1229.6" y="1458.0" width="10.0" height="23.0" fill="#000"/>
<rect x="1325.7" y="52.0" width="10.0" height="9.0" fill="#000"/>
<rect x="1325.7" y="753.0" width="10.0" height="28.0" fill="#000"/>
<rect x="1325.7" y="1472.0" width="10.0" height="9.0" fill="#000"/>
<rect x="1421.8" y="52.0" width="10.0" height="23.0" fill="#000"/>
<rect x="1421.8" y="739.0" width="10.0" height="56.0" fill="#000"/>
<rect x="1421.8" y="1458.0" width="10.0" height="23.0" fill="#000"/>
<rect x="1517.8" y="52.0" width="10.0" height="9.0" fill="#000"/>
<rect x="1517.8" y="753.0" width="10.0" height="28.0" fill="#000"/>
<rect x="1517.8" y="1472.0" width="10.0" height="9.0" fill="#000"/>
<rect x="1613.9" y="52.0" width="10.0" height="23.0" fill="#000"/>
<rect x="1613.9" y="739.0" width="10.0" height="56.0" fill="#000"/>
<rect x="1613.9" y="1458.0" width="10.0" height="23.0" fill="#000"/>
<rect x="1709.9" y="52.0" width="10.0" height="9.0" fill="#000"/>
<rect x="1709.9" y="753.0" width="10.0" height="28.0" fill="#000"/>
<rect x="1709.9" y="1472.0" width="10.0" height="9.0" fill="#000"/>
<rect x="280.0" y="114.0" width="9.0" height="10.0" fill="#000"/>
<rect x="1029.0" y="114.0" width="27.0" height="10.0" fill="#000"/>
<rect x="1797.0" y="114.0" width="9.0" height="10.0" fill="#000"/>
<rect x="280.0" y="186.0" width="23.0" height="10.0" fill="#000"/>
<rect x="1015.0" y="186.0" width="55.0" height="10.0" fill="#000"/>
<rect x="1783.0" y="186.0" width="23.0" height="10.0" fill="#000"/>
<rect x="280.0" y="258.0" width="9.0" height="10.0" fill="#000"/>
<rect x="1029.0" y="258.0" width="27.0" height="10.0" fill="#000"/>
<rect x="1797.0" y="258.0" width="9.0" height="10.0" fill="#000"/>
<rect x="280.0" y="330.0" width="23.0" height="10.0" fill="#000"/>
<rect x="1015.0" y="330.0" width="55.0" height="10.0" fill="#000"/>
<rect x="1783.0" y="330.0" width="23.0" height="10.0" fill="#000"/>
<rect x="280.0" y="402.0" width="9.0" height="10.0" fill="#000"/>
<rect x="1029.0" y="402.0" width="27.0" height="10.0" fill="#000"/>
<rect x="1797.0" y="402.0" width="9.0" height="10.0" fill="#000"/>
<rect x="280.0" y="474.0" width="23.0" height="10.0" fill="#000"/>
<rect x="1015.0" y="474.0" width="55.0" height="10.0" fill="#000"/>
<rect x="1783.0" y="474.0" width="23.0" height="10.0" fill="#000"/>
<rect x="280.0" y="546.0" width="9.0" height="10.0" fill="#000"/>
<rect x="1029.0" y="546.0" width="27.0" height="10.0" fill="#000"/>
<rect x="1797.0" y="546.0" width="9.0" height="10.0" fill="#000"/>
<rect x="280.0" y="618.0" width="23.0" height="10.0" fill="#000"/>
<rect x="1015.0" y="618.0" width="55.0" height="10.0" fill="#000"/>
<rect x="1783.0" y="618.0" width="23.0" height="10.0" fill="#000"/>
<rect x="280.0" y="690.0" width="9.0" height="10.0" fill="#000"/>
<rect x="1029.0" y="690.0" width="27.0" height="10.0" fill="#000"/>
<rect x="1797.0" y="690.0" width="9.0" height="10.0" fill="#000"/>
<rect x="280.0" y="834.0" width="9.0" height="10.0" fill="#000"/>
<rect x="1029.0" y="834.0" width="27.0" height="10.0" fill="#000"/>
<rect x="1797.0" y="834.0" width="9.0" height="10.0" fill="#000"/>
<rect x="280.0" y="905.9" width="23.0" height="10.0" fill="#000"/>
<rect x="1015.0" y="905.9" width="55.0" height="10.0" fill="#000"/>
<rect x="1783.0" y="905.9" width="23.0" height="10.0" fill="#000"/>
<rect x="280.0" y="977.9" width="9.0" height="10.0" fill="#000"/>
<rect x="1029.0" y="977.9" width="27.0" height="10.0" fill="#000"/>
<rect x="1797.0" y="977.9" width="9.0" height="10.0" fill="#000"/>
<rect x="280.0" y="1049.8" width="23.0" height="10.0" fill="#000"/>
<rect x="1015.0" y="1049.8" width="55.0" height="10.0" fill="#000"/>
<rect x="1783.0" y="1049.8" width="23.0" height="10.0" fill="#000"/>
<rect x="280.0" y="1121.8" width="9.0" height="10.0" fill="#000"/>
<rect x="1029.0" y="1121.8" width="27.0" height="10.0" fill="#000"/>
<rect x="1797.0" y="1121.8" width="9.0" height="10.0" fill="#000"/>
<rect x="280.0" y="1193.7" width="23.0" height="10.0" fill="#000"/>
<rect x="1015.0" y="1193.7" width="55.0" height="10.0" fill="#000"/>
<rect x="1783.0" y="1193.7" width="23.0" height="10.0" fill="#000"/>
<rect x="280.0" y="1265.7" width="9.0" height="10.0" fill="#000"/>
<rect x="1029.0" y="1265.7" width="27.0" height="10.0" fill="#000"/>
<rect x="1797.0" y="1265.7" width="9.0" height="10.0" fill="#000"/>
<rect x="280.0" y="1337.6" width="23.0" height="10.0" fill="#000"/>
<rect x="1015.0" y="1337.6" width="55.0" height="10.0" fill="#000"/>
<rect x="1783.0" y="1337.6" width="23.0" height="10.0" fill="#000"/>
<rect x="280.0" y="1409.5" width="9.0" height="10.0" fill="#000"/>
<rect x="1029.0" y="1409.5" width="27.0" height="10.0" fill="#000"/>
<rect x="1797.0" y="1409.5" width="9.0" height="10.0" fill="#000"/>
<text x="245.5" y="68.8" font-family="Liberation Serif" font-weight="bold" font-size="75" text-anchor="end">30</text>
<text x="245.5" y="212.8" font-family="Liberation Serif" font-weight="bold" font-size="75" text-anchor="end">20</text>
<text x="245.5" y="356.8" font-family="Liberation Serif" font-weight="bold" font-size="75" text-anchor="end">10</text>
<text x="245.5" y="500.8" font-family="Liberation Serif" font-weight="bold" font-size="75" text-anchor="end">0</text>
<text x="245.5" y="644.8" font-family="Liberation Serif" font-weight="bold" font-size="75" text-anchor="end">−10</text>
<text x="245.5" y="788.8" font-family="Liberation Serif" font-weight="bold" font-size="75" text-anchor="end">30</text>
<text x="245.5" y="932.7" font-family="Liberation Serif" font-weight="bold" font-size="75" text-anchor="end">20</text>
<text x="245.5" y="1076.6" font-family="Liberation Serif" font-weight="bold" font-size="75" text-anchor="end">10</text>
<text x="245.5" y="1220.5" font-family="Liberation Serif" font-weight="bold" font-size="75" text-anchor="end">0</text>
<text x="245.5" y="1364.4" font-family="Liberation Serif" font-weight="bold" font-size="75" text-anchor="end">−10</text>
<text x="245.5" y="1508.3" font-family="Liberation Serif" font-weight="bold" font-size="75" text-anchor="end">−20</text>
<text x="275.0" y="1575" font-family="Liberation Serif" font-weight="bold" font-size="75" text-anchor="middle">0.0</text>
<text x="466.9" y="1575" font-family="Liberation Serif" font-weight="bold" font-size="75" text-anchor="middle">0.2</text>
<text x="658.8" y="1575" font-family="Liberation Serif" font-weight="bold" font-size="75" text-anchor="middle">0.4</text>
<text x="850.6" y="1575" font-family="Liberation Serif" font-weight="bold" font-size="75" text-anchor="middle">0.6</text>
<text x="1042.5" y="1575" font-family="Liberation Serif" font-weight="bold" font-size="75" text-anchor="middle">0.8</text>
<text x="1234.6" y="1575" font-family="Liberation Serif" font-weight="bold" font-size="75" text-anchor="middle">0.2</text>
<text x="1426.8" y="1575" font-family="Liberation Serif" font-weight="bold" font-size="75" text-anchor="middle">0.4</text>
<text x="1618.9" y="1575" font-family="Liberation Serif" font-weight="bold" font-size="75" text-anchor="middle">0.6</text>
<text x="1811.0" y="1575" font-family="Liberation Serif" font-weight="bold" font-size="75" text-anchor="middle">0.8</text>
<text x="285.0" y="124.0" font-family="Liberation Serif" font-weight="bold" font-size="60" fill="#000" text-anchor="start" >(a)</text>
<text x="1068.0" y="123.0" font-family="Liberation Serif" font-weight="bold" font-size="60" fill="#000" text-anchor="start" >(b)</text>
<text x="292.0" y="851.0" font-family="Liberation Serif" font-weight="bold" font-size="60" fill="#000" text-anchor="start" >(c)</text>
<text x="1076.0" y="837.0" font-family="Liberation Serif" font-weight="bold" font-size="60" fill="#000" text-anchor="start" >(d)</text>
<text x="470.0" y="267.0" font-family="Liberation Serif" font-weight="bold" font-size="53" fill="#0000ff" text-anchor="start" >N=4</text>
<text x="673.0" y="280.0" font-family="Liberation Serif" font-weight="bold" font-size="53" fill="#ff0000" text-anchor="start" >N=5</text>
<text x="306.0" y="386.6" font-family="Liberation Serif" font-weight="bold" font-size="53" fill="#007f00" text-anchor="start" >N=5 diagonal</text>
<text x="536.0" y="599.5" font-family="Liberation Serif" font-weight="bold" font-size="53" fill="#ff00ff" text-anchor="start" >N=5 off-diagonal</text>
<text x="1214.0" y="307.0" font-family="Liberation Serif" font-weight="bold" font-size="53" fill="#0000ff" text-anchor="start" >N=4</text>
<text x="1454.0" y="292.0" font-family="Liberation Serif" font-weight="bold" font-size="53" fill="#ff0000" text-anchor="start" >N=5</text>
<text x="1072.0" y="372.6" font-family="Liberation Serif" font-weight="bold" font-size="53" fill="#007f00" text-anchor="start" >N=5 diagonal</text>
<text x="1311.0" y="633.0" font-family="Liberation Serif" font-weight="bold" font-size="53" fill="#ff00ff" text-anchor="start" >N=5 off-diagonal</text>
<text x="703.0" y="1205.0" font-family="Liberation Serif" font-weight="bold" font-size="53" fill="#0000ff" text-anchor="start" >N=4</text>
<text x="684.0" y="1030.0" font-family="Liberation Serif" font-weight="bold" font-size="53" fill="#ff0000" text-anchor="start" >N=5</text>
<text x="330.0" y="1018.0" font-family="Liberation Serif" font-weight="bold" font-size="53" fill="#007f00" text-anchor="start" >N=5 diagonal</text>
<text x="642.0" y="1373.0" font-family="Liberation Serif" font-weight="bold" font-size="53" fill="#ff00ff" text-anchor="start" >N=5 off-diagonal</text>
<text x="1450.0" y="1223.0" font-family="Liberation Serif" font-weight="bold" font-size="53" fill="#0000ff" text-anchor="start" >N=4</text>
<text x="1460.0" y="1041.0" font-family="Liberation Serif" font-weight="bold" font-size="53" fill="#ff0000" text-anchor="start" >N=5</text>
<text x="1061.0" y="913.0" font-family="Liberation Serif" font-weight="bold" font-size="53" fill="#007f00" text-anchor="start" >N=5 diagonal</text>
<text x="1389.0" y="1388.0" font-family="Liberation Serif" font-weight="bold" font-size="53" fill="#ff00ff" text-anchor="start" >N=5 off-diagonal</text>
<rect x="596" y="724" width="161" height="102" fill="#000"/>
<rect x="583.75" y="711.75" width="159.5" height="100.5" fill="#fff" stroke="#000" stroke-width="1.5"/>
<text x="592.0" y="761.5" font-family="Liberation Serif" font-weight="bold" font-size="45" fill="#000" text-anchor="start" >123</text>
<text x="661.0" y="789.0" font-family="Liberation Serif" font-weight="bold" font-size="67" fill="#000" text-anchor="start" >Cs</text>
<rect x="1403.5" y="723.0" width="160.5" height="102.0" fill="#000"/>
<rect x="1390.75" y="710.25" width="159.0" height="100.5" fill="#fff" stroke="#000" stroke-width="1.5"/>
<text x="1399.0" y="760.0" font-family="Liberation Serif" font-weight="bold" font-size="45" fill="#000" text-anchor="start" >125</text>
<text x="1467.0" y="788.0" font-family="Liberation Serif" font-weight="bold" font-size="67" fill="#000" text-anchor="start" >Cs</text>
<text x="865" y="1689" font-family="Liberation Serif" font-weight="bold" font-size="82" letter-spacing="-1"><tspan font-style="italic">ħ</tspan>ω (MeV)</text>
<g transform="translate(81,636) rotate(-90)"><path d="M15,-55 L2.5,-21 L15,13" fill="none" stroke="#000" stroke-width="5.5" stroke-linejoin="miter"/><text x="16" y="0" font-family="Liberation Serif" font-weight="bold" font-style="italic" font-size="80" textLength="48" lengthAdjust="spacingAndGlyphs">J</text><text x="58" y="22" font-family="Liberation Serif" font-weight="bold" font-style="italic" font-size="52">x</text><path d="M91,-55 L103.5,-21 L91,13" fill="none" stroke="#000" stroke-width="5.5" stroke-linejoin="miter"/><text x="132" y="0" font-family="Liberation Serif" font-weight="bold" font-size="80">Proton(<tspan font-style="italic">ħ</tspan>)</text></g>
<g transform="translate(81.4,1391) rotate(-90)"><path d="M15,-55 L2.5,-21 L15,13" fill="none" stroke="#000" stroke-width="5.5" stroke-linejoin="miter"/><text x="16" y="0" font-family="Liberation Serif" font-weight="bold" font-style="italic" font-size="80" textLength="48" lengthAdjust="spacingAndGlyphs">J</text><text x="58" y="22" font-family="Liberation Serif" font-weight="bold" font-style="italic" font-size="52">x</text><path d="M91,-55 L103.5,-21 L91,13" fill="none" stroke="#000" stroke-width="5.5" stroke-linejoin="miter"/><text x="132" y="0" font-family="Liberation Serif" font-weight="bold" font-size="80">Neutron (<tspan font-style="italic">ħ</tspan>)</text></g>
</svg></body></html>
